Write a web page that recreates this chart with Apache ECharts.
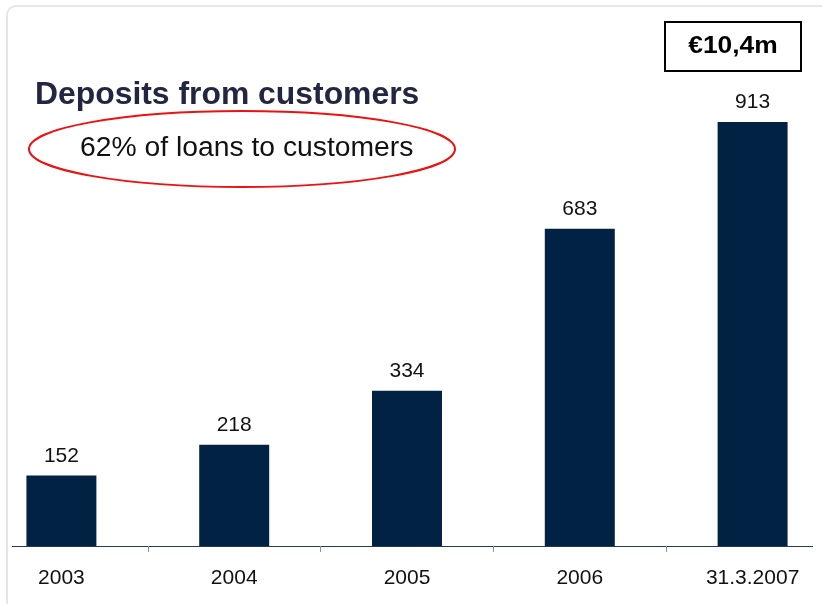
<!DOCTYPE html>
<html>
<head>
<meta charset="utf-8">
<style>
  html, body { margin: 0; padding: 0; background: #ffffff; }
  #chart { width: 822px; height: 604px; }
</style>
<script src="https://cdn.jsdelivr.net/npm/echarts@6/dist/echarts.min.js"></script>
</head>
<body>
<div id="chart"></div>
<script>
// Deposits from customers, € millions
const categories = ['2003', '2004', '2005', '2006', '31.3.2007'];
const deposits = [152, 218, 334, 683, 913];

const titleText = 'Deposits from customers';
const noteText = '62% of loans to customers';
const totalText = '€10,4m';

const FONT = '"Liberation Sans", Arial, Helvetica, sans-serif';
const BAR_COLOR = '#022244';

const chart = echarts.init(document.getElementById('chart'), null, { renderer: 'canvas' });

chart.setOption({
  backgroundColor: '#ffffff',
  animation: false,
  grid: {
    left: -25,
    right: -17,
    top: 81.5,
    bottom: 58,
    outerBoundsMode: 'none',
    containLabel: false
  },
  xAxis: {
    type: 'category',
    data: categories,
    boundaryGap: true,
    axisLine: { show: false },
    axisTick: {
      show: true,
      length: 6,
      inside: false,
      lineStyle: { color: '#8394ad', width: 1 }
    },
    axisLabel: {
      color: '#111111',
      fontFamily: FONT,
      fontSize: 21,
      margin: 22
    },
    splitLine: { show: false }
  },
  yAxis: {
    type: 'value',
    min: 0,
    max: 1000,
    show: false
  },
  series: [{
    type: 'bar',
    data: deposits,
    barWidth: '40.5%',
    barCategoryGap: '59.5%',
    itemStyle: { color: BAR_COLOR },
    label: {
      show: true,
      position: 'top',
      distance: 9,
      color: '#111111',
      fontFamily: FONT,
      fontSize: 21
    }
  }],
  graphic: [
    {
      // panel frame
      type: 'rect',
      silent: true,
      z: -10,
      shape: { x: 7, y: 6, width: 840, height: 620, r: 9 },
      style: { fill: 'none', stroke: '#e6e6e6', lineWidth: 2 }
    },
    {
      // baseline
      type: 'line',
      silent: true,
      shape: { x1: 12, y1: 546.5, x2: 813, y2: 546.5 },
      style: { stroke: '#243b5c', lineWidth: 1.2 }
    },
    {
      type: 'text',
      silent: true,
      x: 35,
      y: 95,
      scaleX: 1.028,
      style: {
        text: titleText,
        fill: '#222641',
        font: 'bold 31px ' + FONT,
        verticalAlign: 'middle',
        align: 'left'
      }
    },
    {
      type: 'ellipse',
      silent: true,
      shape: { cx: 242, cy: 149, rx: 213, ry: 38 },
      style: { fill: 'none', stroke: '#ee1111', lineWidth: 2 }
    },
    {
      type: 'text',
      silent: true,
      x: 80,
      y: 149,
      scaleX: 1.048,
      style: {
        text: noteText,
        fill: '#111111',
        font: '27px ' + FONT,
        verticalAlign: 'middle',
        align: 'left'
      }
    },
    {
      type: 'rect',
      silent: true,
      shape: { x: 665, y: 22, width: 136, height: 49 },
      style: { fill: '#ffffff', stroke: '#000000', lineWidth: 2 }
    },
    {
      type: 'text',
      silent: true,
      x: 733,
      y: 46,
      scaleX: 1.1,
      style: {
        text: totalText,
        fill: '#000000',
        font: 'bold 24px ' + FONT,
        verticalAlign: 'middle',
        align: 'center'
      }
    }
  ]
});
</script>
</body>
</html>
